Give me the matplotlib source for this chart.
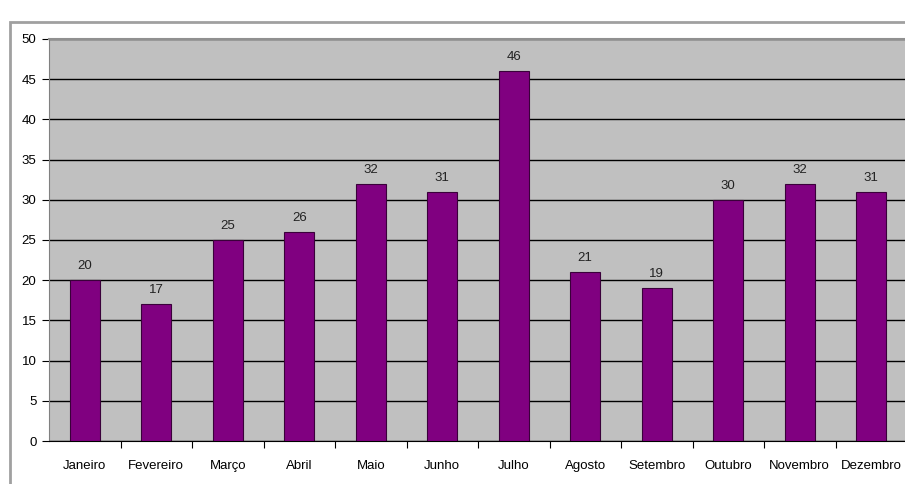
import matplotlib.pyplot as plt
from matplotlib.patches import Rectangle

meses = ["Janeiro", "Fevereiro", "Março", "Abril", "Maio", "Junho",
         "Julho", "Agosto", "Setembro", "Outubro", "Novembro", "Dezembro"]
valores = [20, 17, 25, 26, 32, 31, 46, 21, 19, 30, 32, 31]

plt.rcParams["font.family"] = ["Liberation Sans", "DejaVu Sans"]

fig = plt.figure(figsize=(9.05, 4.84), dpi=100)
W, H = 905, 484

# moldura cinza do gráfico (cortada à direita e embaixo)
fig.patches.append(Rectangle((10 / W, -0.1), 1.2, (473 - 11) / H + 0.1,
                             transform=fig.transFigure, fill=False,
                             edgecolor="#a0a0a0", linewidth=2))

ax = fig.add_axes([49 / W, (H - 441) / H, 858 / W, (441 - 39) / H])
ax.set_facecolor("#c0c0c0")

x = range(len(meses))
ax.bar(x, valores, width=0.42, color="#800080",
       edgecolor="#3a003a", linewidth=0.8, zorder=3)

for xi, v in zip(x, valores):
    ax.text(xi, v + 1.0, str(v), ha="center", va="bottom", fontsize=9.5,
            color="#222222")

ax.set_xlim(-0.5, len(meses) - 0.5)
ax.set_ylim(0, 50)
ax.set_yticks(range(0, 51, 5))
ax.yaxis.grid(True, color="#000000", linewidth=1.0)
ax.set_axisbelow(True)

ax.set_xticks([i + 0.5 for i in range(len(meses) - 1)])
ax.set_xticklabels([])
ax.set_xticks(list(x), minor=True)
ax.set_xticklabels(meses, minor=True, fontsize=9.5)
ax.tick_params(axis="x", which="minor", length=0, pad=14)
ax.tick_params(axis="x", which="major", length=5, direction="out", color="#000000")
ax.tick_params(axis="y", length=5, labelsize=9.5, pad=4)

ax.spines["right"].set_visible(False)
ax.spines["top"].set_color("#909090")
ax.spines["top"].set_linewidth(1.5)
ax.spines["top"].set_zorder(5)
ax.spines["left"].set_color("#808080")
ax.spines["bottom"].set_color("#000000")

plt.savefig("out.png", dpi=100)
plt.close()
